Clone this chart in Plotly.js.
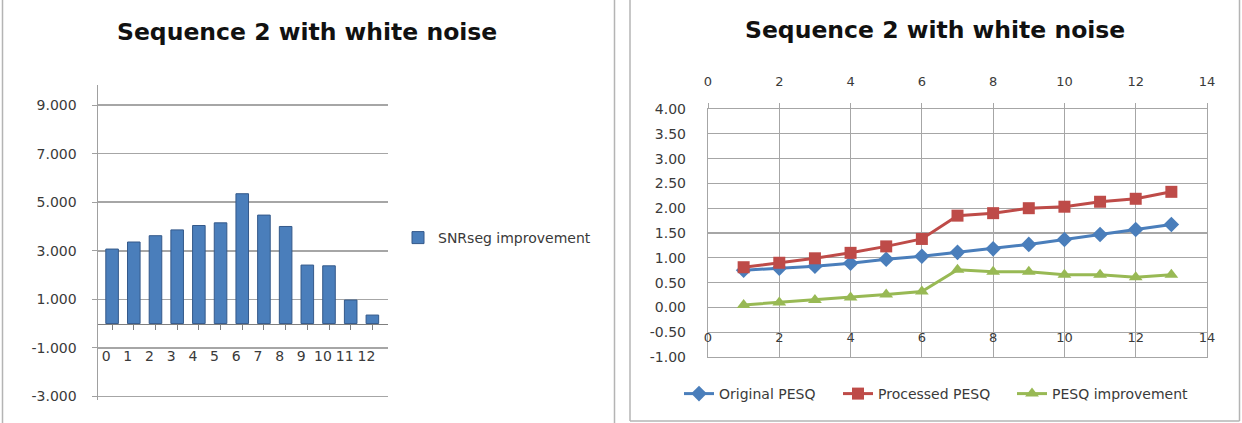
<!DOCTYPE html>
<html>
<head>
<meta charset="utf-8">
<script src="https://cdn.plot.ly/plotly-3.0.1.min.js"></script>
<style>
  html, body { margin: 0; padding: 0; background: #ffffff; }
  #chart { width: 1242px; height: 423px; }
</style>
</head>
<body>
<div id="chart"></div>
<script>
// Segmental SNR improvement per sequence index
const snrCategories = [0, 1, 2, 3, 4, 5, 6, 7, 8, 9, 10, 11, 12];
const snrImprovement = [3.07, 3.36, 3.62, 3.86, 4.04, 4.15, 5.35, 4.47, 4.00, 2.41, 2.38, 0.97, 0.35];
const snrTickVals = [-3, -1, 1, 3, 5, 7, 9];

// PESQ scores per sequence index
const pesqX = [1, 2, 3, 4, 5, 6, 7, 8, 9, 10, 11, 12, 13];
const originalPesq = [0.75, 0.79, 0.83, 0.89, 0.97, 1.03, 1.11, 1.18, 1.27, 1.37, 1.47, 1.57, 1.67];
const processedPesq = [0.81, 0.90, 0.99, 1.10, 1.23, 1.38, 1.85, 1.90, 2.00, 2.03, 2.13, 2.19, 2.33];
const pesqImprovement = [0.05, 0.10, 0.15, 0.20, 0.26, 0.32, 0.76, 0.72, 0.72, 0.66, 0.66, 0.61, 0.66];
const pesqTickVals = [-1, -0.5, 0, 0.5, 1, 1.5, 2, 2.5, 3, 3.5, 4];
const indexTickVals = [0, 2, 4, 6, 8, 10, 12, 14];

const chartTitle = 'Sequence 2 with white noise';

const W = 1242, H = 423;
const px = v => v / W;          // horizontal pixel -> paper
const py = v => (H - v) / H;    // vertical pixel -> paper

const FONT = '"DejaVu Sans", Verdana, sans-serif';
const TICK_COLOR = '#3a3a3a';
const GRID = '#a6a6a6';

const BLUE = '#4a7ebb';
const RED = '#be4b48';
const GREEN = '#98b954';

// left panel: y range and its pixel extent
const leftRange = [-3.15, 9.83];
const leftTop = 85, leftBottom = 400;
const leftZeroPx = leftBottom - (0 - leftRange[0]) / (leftRange[1] - leftRange[0]) * (leftBottom - leftTop);

// right panel: y range and its pixel extent
const rightRange = [-1, 4];
const rightTop = 109, rightBottom = 357;
const rightLabelPx = rightBottom - (-0.42 - rightRange[0]) / (rightRange[1] - rightRange[0]) * (rightBottom - rightTop);

const traces = [
  {
    type: 'bar',
    name: 'SNRseg improvement',
    x: snrCategories,
    y: snrImprovement,
    xaxis: 'x',
    yaxis: 'y',
    width: 0.58,
    marker: { color: BLUE, line: { color: '#34598a', width: 1 } },
    legend: 'legend2'
  },
  {
    type: 'scatter',
    mode: 'lines+markers',
    name: 'Original PESQ',
    x: pesqX,
    y: originalPesq,
    xaxis: 'x2',
    yaxis: 'y2',
    line: { color: BLUE, width: 3 },
    marker: { symbol: 'diamond', size: 12, color: BLUE },
    legend: 'legend'
  },
  {
    type: 'scatter',
    mode: 'lines+markers',
    name: 'Processed PESQ',
    x: pesqX,
    y: processedPesq,
    xaxis: 'x2',
    yaxis: 'y2',
    line: { color: RED, width: 3 },
    marker: { symbol: 'square', size: 12, color: RED },
    legend: 'legend3'
  },
  {
    type: 'scatter',
    mode: 'lines+markers',
    name: 'PESQ improvement',
    x: pesqX,
    y: pesqImprovement,
    xaxis: 'x2',
    yaxis: 'y2',
    line: { color: GREEN, width: 3 },
    marker: { symbol: 'triangle-up', size: 12, color: GREEN },
    legend: 'legend4'
  },
  // invisible trace carrying the lower index labels of the line chart
  {
    type: 'scatter',
    mode: 'markers',
    x: [0, 14],
    y: [0, 0],
    xaxis: 'x3',
    yaxis: 'y2',
    marker: { opacity: 0 },
    showlegend: false,
    hoverinfo: 'skip'
  }
];

// one legend box per series so each entry sits at its own spot
const legendBox = leftPx => ({
  x: px(leftPx),
  xanchor: 'left',
  y: py(394),
  yanchor: 'middle',
  font: { family: FONT, size: 14, color: TICK_COLOR },
  itemwidth: 30,
  bgcolor: 'rgba(0,0,0,0)'
});

const layout = {
  width: W,
  height: H,
  margin: { l: 0, r: 0, t: 0, b: 0 },
  paper_bgcolor: '#ffffff',
  plot_bgcolor: 'rgba(0,0,0,0)',
  font: { family: FONT, size: 13, color: TICK_COLOR },
  showlegend: true,

  // ---- left: column chart ----
  xaxis: {
    domain: [px(98), px(388)],
    range: [-0.65, 12.72],
    anchor: 'free',
    position: py(leftZeroPx),
    tickmode: 'array',
    tickvals: snrCategories,
    ticktext: snrCategories.map(String),
    tickson: 'boundaries',
    ticks: 'outside',
    ticklen: 5,
    tickcolor: '#7f7f7f',
    showline: true,
    linecolor: '#7f7f7f',
    linewidth: 1.5,
    showgrid: false,
    zeroline: false,
    ticklabelstandoff: 14,
    ticklabelshift: -6,
    tickfont: { family: FONT, size: 14, color: TICK_COLOR },
    fixedrange: true
  },
  yaxis: {
    domain: [py(leftBottom), py(leftTop)],
    range: leftRange,
    anchor: 'x',
    tickmode: 'array',
    tickvals: snrTickVals,
    ticktext: snrTickVals.map(v => v.toFixed(3)),
    showgrid: true,
    gridcolor: GRID,
    gridwidth: 1.5,
    zeroline: false,
    showline: true,
    linecolor: '#a0a0a0',
    linewidth: 1.5,
    ticks: 'outside',
    ticklen: 5,
    tickcolor: '#a0a0a0',
    tickfont: { family: FONT, size: 14, color: TICK_COLOR },
    ticklabelstandoff: 12,
    fixedrange: true
  },

  // ---- right: line chart ----
  xaxis2: {
    domain: [px(708), px(1207)],
    range: [0, 14],
    anchor: 'y2',
    side: 'top',
    tickmode: 'array',
    tickvals: indexTickVals,
    ticktext: indexTickVals.map(String),
    showgrid: true,
    gridcolor: GRID,
    gridwidth: 1.2,
    zeroline: false,
    showline: true,
    mirror: true,
    linecolor: GRID,
    linewidth: 1.2,
    ticks: 'outside',
    ticklen: 5,
    tickcolor: GRID,
    tickfont: { family: FONT, size: 13, color: TICK_COLOR },
    ticklabelstandoff: 12,
    fixedrange: true
  },
  xaxis3: {
    overlaying: 'x2',
    matches: 'x2',
    range: [0, 14],
    anchor: 'free',
    position: py(rightLabelPx),
    side: 'bottom',
    tickmode: 'array',
    tickvals: indexTickVals,
    ticktext: indexTickVals.map(String),
    showgrid: false,
    zeroline: false,
    showline: false,
    ticks: '',
    tickfont: { family: FONT, size: 13, color: TICK_COLOR },
    fixedrange: true
  },
  yaxis2: {
    domain: [py(rightBottom), py(rightTop)],
    range: rightRange,
    anchor: 'x2',
    tickmode: 'array',
    tickvals: pesqTickVals,
    ticktext: pesqTickVals.map(v => v.toFixed(2)),
    showgrid: true,
    gridcolor: GRID,
    gridwidth: 1.2,
    zeroline: false,
    showline: true,
    mirror: true,
    linecolor: GRID,
    linewidth: 1.2,
    ticks: '',
    tickfont: { family: FONT, size: 14, color: TICK_COLOR },
    ticklabelstandoff: 18,
    fixedrange: true
  },

  legend: legendBox(679),
  legend3: legendBox(838),
  legend4: legendBox(1012),
  legend2: {
    x: px(398),
    xanchor: 'left',
    y: py(238),
    yanchor: 'middle',
    font: { family: FONT, size: 14, color: TICK_COLOR },
    bgcolor: 'rgba(0,0,0,0)'
  },

  annotations: [
    {
      text: '<b>' + chartTitle + '</b>',
      xref: 'paper', yref: 'paper',
      x: px(307), y: py(32),
      xanchor: 'center', yanchor: 'middle',
      showarrow: false,
      font: { family: FONT, size: 23.5, color: '#111111' }
    },
    {
      text: '<b>' + chartTitle + '</b>',
      xref: 'paper', yref: 'paper',
      x: px(935), y: py(30),
      xanchor: 'center', yanchor: 'middle',
      showarrow: false,
      font: { family: FONT, size: 23.5, color: '#111111' }
    }
  ],

  // chart frames
  shapes: [
    { type: 'line', xref: 'paper', yref: 'paper', x0: px(2.5), x1: px(2.5), y0: 0, y1: 1,
      line: { color: '#b4b4b4', width: 1.5 } },
    { type: 'line', xref: 'paper', yref: 'paper', x0: px(614.5), x1: px(614.5), y0: 0, y1: 1,
      line: { color: '#b4b4b4', width: 1.5 } },
    { type: 'line', xref: 'paper', yref: 'paper', x0: px(630), x1: px(630), y0: py(421), y1: 1,
      line: { color: '#b4b4b4', width: 1.5 } },
    { type: 'line', xref: 'paper', yref: 'paper', x0: px(1239.5), x1: px(1239.5), y0: py(421), y1: 1,
      line: { color: '#b4b4b4', width: 1.5 } },
    { type: 'line', xref: 'paper', yref: 'paper', x0: px(630), x1: px(1239.5), y0: py(421), y1: py(421),
      line: { color: '#b4b4b4', width: 1.5 } }
  ]
};

Plotly.newPlot('chart', traces, layout, { displayModeBar: false, staticPlot: true });
</script>
</body>
</html>
